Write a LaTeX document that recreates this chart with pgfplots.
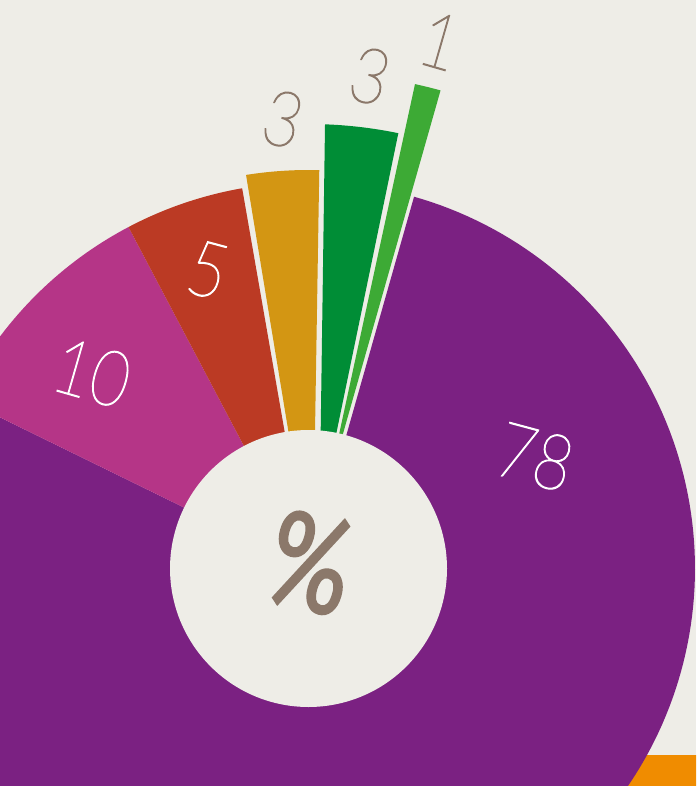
\documentclass[border=0pt]{standalone}
\usepackage{graphicx}
\usepackage{pgfplots}
\pgfplotsset{compat=1.18}
\usepackage{fontspec}
\IfFontExistsTF{Lato Thin}{\newfontfamily\thinfont{Lato Thin}[RawFeature={embolden=1.6}]}{\IfFontExistsTF{Lato Light}{\newfontfamily\thinfont{Lato Light}}{\newfontfamily\thinfont{Lato}}}
\newfontfamily\pctfont{Fira Sans}[RawFeature={embolden=1.2}]
\definecolor{bg}{RGB}{238,237,231}
\definecolor{cpurple}{RGB}{123,33,130}
\definecolor{cpink}{RGB}{181,53,135}
\definecolor{cred}{RGB}{187,58,36}
\definecolor{cgold}{RGB}{211,150,19}
\definecolor{cdgreen}{RGB}{0,141,54}
\definecolor{clgreen}{RGB}{61,170,53}
\definecolor{corange}{RGB}{240,140,0}
\definecolor{ctext}{RGB}{139,120,106}
% #1 colour, #2 start angle, #3 end angle (clockwise from top), #4 outer radius, #5,#6 apex, #7 samples
\newcommand{\seg}[7]{%
  \addplot[draw=none, fill=#1, samples=#7, variable=\t,
    domain={#2-(#3-#2)/(#7-3)}:{#3+(#3-#2)/(#7-3)}]
    ({(\t<#2-(#3-#2)/(2*(#7-3)) || \t>#3+(#3-#2)/(2*(#7-3))) ? #5 : 308.5+#4*sin(\t)},
     {(\t<#2-(#3-#2)/(2*(#7-3)) || \t>#3+(#3-#2)/(2*(#7-3))) ? #6 : 568.5-#4*cos(\t)});
}
\newcommand{\numfont}{\thinfont\fontsize{77}{77}\selectfont}
\begin{document}
\begin{tikzpicture}
\begin{axis}[
  scale only axis, width=696pt, height=786pt,
  xmin=0, xmax=696, ymin=0, ymax=786, y dir=reverse,
  axis lines=none, ticks=none, clip=true]
% background
\addplot[draw=none, fill=bg] coordinates {(0,0) (696,0) (696,786) (0,786)} -- cycle;
% orange element at the lower right
\addplot[draw=none, fill=corange] coordinates {(600,754.5) (700,754.5) (700,790) (600,790)} -- cycle;
% segments: 78, 10, 5, 3, 3, 1 (%)
\seg{cpurple}{15.85}{296.1}{386.5}{308.5}{568.5}{203}
\seg{cpink}{296.1}{332.2}{386}{308.5}{568.5}{43}
\seg{cred}{332.2}{350.1}{386}{308.5}{568.5}{33}
\seg{cgold}{350.98}{361.55}{398.5}{312.6}{578}{33}
\seg{cdgreen}{2.13}{11.66}{444.5}{319.5}{514.7}{33}
\seg{clgreen}{12.40}{15.44}{496}{327.1}{489.6}{23}
% hole
\addplot[draw=none, fill=bg, domain=0:360, samples=181, variable=\t]
  ({308.5+138.5*sin(\t)}, {568.5-138.5*cos(\t)});
% labels
\node[rotate=-15, text=white, font=\numfont] at (axis cs:535,457) {\scalebox{0.85}[1]{78}};
\node[rotate=-16, text=white, font=\numfont] at (axis cs:92,373) {\scalebox{0.85}[1]{10}};
\node[rotate=-15, text=white, font=\numfont] at (axis cs:208,270) {\scalebox{0.85}[1]{5}};
\node[rotate=-15, text=ctext, font=\numfont] at (axis cs:283,119) {\scalebox{0.85}[1]{3}};
\node[rotate=-15, text=ctext, font=\numfont] at (axis cs:370,76) {\scalebox{0.85}[1]{3}};
\node[rotate=-16, text=ctext, font=\numfont] at (axis cs:440,41) {\scalebox{0.85}[1]{1}};
\node[rotate=-16, text=ctext, font=\pctfont\fontsize{136}{136}\selectfont] at (axis cs:311,562) {\scalebox{0.76}[1]{\%}};
\end{axis}
\pgfresetboundingbox
\path (current axis.south west) rectangle (current axis.north east);
\end{tikzpicture}
\end{document}
